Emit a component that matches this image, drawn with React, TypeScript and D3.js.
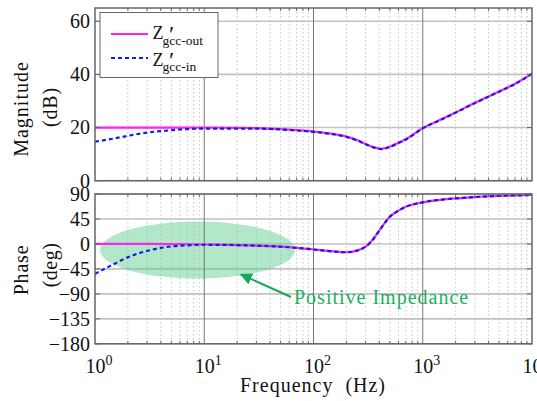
import React from "react";
import * as d3 from "d3";

// Frequencies (Hz) for the sampled curves
const freqs = [1, 1.5, 2, 3, 5, 7, 10, 20, 30, 50, 70, 100, 150, 200, 250, 300, 350, 420, 500, 600, 700, 1000, 1500, 2000, 3000, 5000, 7000, 10000];
// Magnitude (dB)
const magOut = [20, 20, 20, 20, 20, 20, 20, 19.9, 19.8, 19.4, 19.0, 18.5, 17.6, 16.6, 15.3, 13.8, 12.7, 12.0, 12.8, 14.3, 15.6, 19.8, 23.2, 25.7, 29.3, 33.6, 36.5, 40.3];
const magIn = [14.7, 15.9, 16.9, 18.1, 19.0, 19.4, 19.6, 19.6, 19.6, 19.3, 18.9, 18.4, 17.5, 16.5, 15.2, 13.7, 12.6, 11.9, 12.7, 14.2, 15.5, 19.7, 23.1, 25.6, 29.2, 33.5, 36.4, 40.3];
// Phase (deg)
const phOut = [0, 0, 0, 0, -0.3, -0.6, -1, -2, -3, -5, -7, -10, -13.5, -15, -12, -5, 8, 30, 49, 60, 67, 75, 80, 82, 84.5, 86.5, 87.5, 88.5];
const phIn = [-54, -36, -24, -12.6, -4.5, -2.5, -1.5, -2, -3, -5, -7, -10, -13.5, -15, -12, -5, 8, 30, 49, 60, 67, 75, 80, 82, 84.5, 86.5, 87.5, 88.5];

const magTicks = [0, 20, 40, 60];
const phaseTicks = [90, 45, 0, -45, -90, -135, -180];
const decades = [0, 1, 2, 3, 4];
const legendSubs = ["gcc-out", "gcc-in"];

const FONT = '"Liberation Serif", "Times New Roman", serif';

export default function App() {
  const W = 537, H = 401;
  const x0 = 95, x1 = 532;
  const x = d3.scaleLog().domain([1, 10000]).range([x0, x1]);
  const yM = d3.scaleLinear().domain([0, 65]).range([180.7, 8]);
  const yP = d3.scaleLinear().domain([-180, 90]).range([343.8, 194]);

  const minor: number[] = [];
  for (let d = 0; d < 4; d++) for (let m = 2; m <= 9; m++) minor.push(m * Math.pow(10, d));

  const lineM = (vals: number[]) =>
    d3.line<number>().x((_, i) => x(freqs[i])).y((v) => yM(v)).curve(d3.curveMonotoneX)(vals) || "";
  const lineP = (vals: number[]) =>
    d3.line<number>().x((_, i) => x(freqs[i])).y((v) => yP(v)).curve(d3.curveMonotoneX)(vals) || "";

  const panel = (top: number, bottom: number, yTicks: number[], ys: (v: number) => number) => (
    <g>
      <rect x={x0} y={top} width={x1 - x0} height={bottom - top} fill="white" />
      {minor.map((f) => (
        <line key={"m" + f} x1={x(f)} x2={x(f)} y1={top} y2={bottom} stroke="#c4c4c4" strokeWidth={1} strokeDasharray="1.5,2.5" />
      ))}
      {yTicks.map((t) => (
        <line key={"h" + t} x1={x0} x2={x1} y1={ys(t)} y2={ys(t)} stroke="#c2c2c2" strokeWidth={1.6} />
      ))}
      {decades.slice(1, 4).map((d) => (
        <line key={"v" + d} x1={x(Math.pow(10, d))} x2={x(Math.pow(10, d))} y1={top} y2={bottom} stroke="#777" strokeWidth={1} />
      ))}
    </g>
  );

  const frame = (top: number, bottom: number, yTicks: number[], ys: (v: number) => number) => (
    <g>
      {minor.map((f) => (
        <g key={"t" + f}>
          <line x1={x(f)} x2={x(f)} y1={top} y2={top + 3} stroke="#666" strokeWidth={1} />
          <line x1={x(f)} x2={x(f)} y1={bottom} y2={bottom - 3} stroke="#666" strokeWidth={1} />
        </g>
      ))}
      {yTicks.map((t) => (
        <g key={"yt" + t}>
          <line x1={x0} x2={x0 + 5} y1={ys(t)} y2={ys(t)} stroke="#666" />
          <line x1={x1} x2={x1 - 5} y1={ys(t)} y2={ys(t)} stroke="#666" />
        </g>
      ))}
      <rect x={x0} y={top} width={x1 - x0} height={bottom - top} fill="none" stroke="#666" strokeWidth={1.5} />
    </g>
  );

  const txt = { fontFamily: FONT };

  return (
    <svg width={W} height={H} style={{ position: "absolute", left: 0, top: 0, background: "white" }}>
      {panel(8, 180.7, magTicks, yM)}
      {panel(194, 343.8, phaseTicks, yP)}

      {/* Ellipse highlight */}
      <ellipse cx={197.5} cy={250} rx={97.5} ry={28.5} fill="#5fcf8f" fillOpacity={0.48} />
      {decades.slice(1, 3).map((d) => (
        <line key={"vv" + d} x1={x(Math.pow(10, d))} x2={x(Math.pow(10, d))} y1={221} y2={279} stroke="#777" strokeWidth={0.8} opacity={0.7} />
      ))}

      {/* Magnitude curves */}
      <path d={lineM(magOut)} fill="none" stroke="#ff22ee" strokeWidth={2.2} />
      <path d={lineM(magIn)} fill="none" stroke="#1020e0" strokeWidth={2.2} strokeDasharray="4,3" />
      {/* Phase curves */}
      <path d={lineP(phOut)} fill="none" stroke="#ff22ee" strokeWidth={2.2} />
      <path d={lineP(phIn)} fill="none" stroke="#1020e0" strokeWidth={2.2} strokeDasharray="4,3" />

      {frame(8, 180.7, magTicks, yM)}
      {frame(194, 343.8, phaseTicks, yP)}

      {/* Y tick labels */}
      {magTicks.map((t) => (
        <text key={"ml" + t} style={txt} x={90} y={yM(t) + 6.8} textAnchor="end" fontSize={20} fill="#111">{t}</text>
      ))}
      {phaseTicks.map((t) => (
        <text key={"pl" + t} style={txt} x={90} y={yP(t) + 6.8} textAnchor="end" fontSize={20} fill="#111">
          {t < 0 ? "\u2212" + Math.abs(t) : String(t)}
        </text>
      ))}

      {/* X tick labels */}
      {decades.map((d) => (
        <text key={"xl" + d} style={txt} x={x(Math.pow(10, d)) + 4} y={373} textAnchor="middle" fontSize={20} fill="#111">
          10<tspan dy={-8} fontSize={14}>{d}</tspan>
        </text>
      ))}
      <text style={txt} x={313} y={392} textAnchor="middle" fontSize={20} fill="#111" letterSpacing={1} xmlSpace="preserve">
        Frequency  (Hz)
      </text>

      {/* Y axis titles */}
      <text style={txt} transform="translate(28,109) rotate(-90)" textAnchor="middle" fontSize={20} fill="#111" letterSpacing={1}>Magnitude</text>
      <text style={txt} transform="translate(56.5,107) rotate(-90)" textAnchor="middle" fontSize={20} fill="#111" letterSpacing={0.8}>(dB)</text>
      <text style={txt} transform="translate(28,270) rotate(-90)" textAnchor="middle" fontSize={20} fill="#111" letterSpacing={0.8}>Phase</text>
      <text style={txt} transform="translate(56.5,265) rotate(-90)" textAnchor="middle" fontSize={20} fill="#111" letterSpacing={0.5}>(deg)</text>

      {/* Legend */}
      <rect x={100} y={12.5} width={118} height={65} fill="white" stroke="#666" strokeWidth={1} />
      <line x1={111} x2={148} y1={34} y2={34} stroke="#ff22ee" strokeWidth={2.2} />
      <line x1={111} x2={148} y1={58} y2={58} stroke="#1020e0" strokeWidth={2.2} strokeDasharray="4,3" />
      {legendSubs.map((s, i) => {
        const by = 39 + i * 26.5;
        return (
          <g key={s}>
            <text style={txt} x={152.5} y={by} fontSize={18} fill="#111">Z</text>
            <text style={txt} x={162.5} y={by + 5.5} fontSize={13.5} fill="#111">{s}</text>
            <text style={txt} x={169} y={by + 2.5} fontSize={24} fill="#111">{"\u2032"}</text>
          </g>
        );
      })}

      {/* Annotation */}
      <defs>
        <marker id="arr" viewBox="0 0 10 10" refX={9} refY={5} markerWidth={6} markerHeight={6} orient="auto">
          <path d="M0,0 L10,5 L0,10 z" fill="#14a85a" />
        </marker>
      </defs>
      <line x1={291} y1={297} x2={241} y2={274.5} stroke="#14a85a" strokeWidth={2} markerEnd="url(#arr)" />
      <text style={txt} x={294} y={304} fontSize={20} fill="#19b060" letterSpacing={1}>Positive Impedance</text>
    </svg>
  );
}
